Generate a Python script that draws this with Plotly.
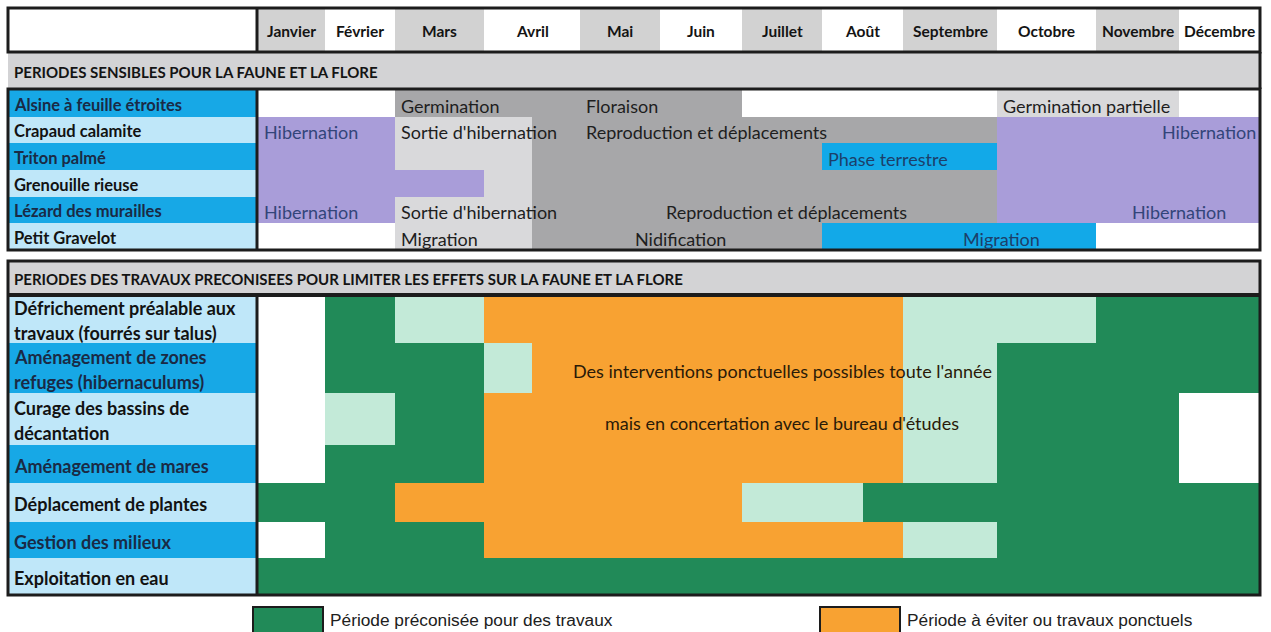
import numpy as np
import plotly.graph_objects as go

# ---------------------------------------------------------------- data
MONTHS = ["Janvier", "Février", "Mars", "Avril", "Mai", "Juin", "Juillet",
          "Août", "Septembre", "Octobre", "Novembre", "Décembre"]

SECTION_FAUNE = "PERIODES SENSIBLES POUR LA FAUNE ET LA FLORE"
SECTION_TRAVAUX = "PERIODES DES TRAVAUX PRECONISEES POUR LIMITER LES EFFETS SUR LA FAUNE ET LA FLORE"

SPECIES = ["Alsine à feuille étroites", "Crapaud calamite", "Triton palmé",
           "Grenouille rieuse", "Lézard des murailles", "Petit Gravelot"]

# periods: (start, end, state) in months, 0 = 1st January, 12 = 31st December
ALSINE = [(0, 2, "hors"), (2, 6, "sensible"), (6, 9, "hors"), (9, 11, "transition"), (11, 12, "hors")]
CRAPAUD = [(0, 2, "hiver"), (2, 3.5, "transition"), (3.5, 9, "sensible"), (9, 12, "hiver")]
TRITON = [(0, 2, "hiver"), (2, 3.5, "transition"), (3.5, 7, "sensible"), (7, 9, "mobile"), (9, 12, "hiver")]
GRENOUILLE = [(0, 3, "hiver"), (3, 3.5, "transition"), (3.5, 9, "sensible"), (9, 12, "hiver")]
LEZARD = [(0, 2, "hiver"), (2, 3.5, "transition"), (3.5, 9, "sensible"), (9, 12, "hiver")]
GRAVELOT = [(0, 2, "hors"), (2, 3.5, "transition"), (3.5, 7, "sensible"), (7, 10, "mobile"), (10, 12, "hors")]
FAUNE_PERIODS = [ALSINE, CRAPAUD, TRITON, GRENOUILLE, LEZARD, GRAVELOT]

# phase names: (row, month where written, text, alignment)
PHASES = [
    (0, 2, "Germination", "left"), (0, 4, "Floraison", "left"), (0, 9, "Germination partielle", "left"),
    (1, 0, "Hibernation", "left"), (1, 2, "Sortie d'hibernation", "left"),
    (1, 4, "Reproduction et déplacements", "left"), (1, 12, "Hibernation", "right"),
    (2, 7, "Phase terrestre", "left"),
    (4, 0, "Hibernation", "left"), (4, 2, "Sortie d'hibernation", "left"),
    (4, 5, "Reproduction et déplacements", "left"), (4, 11, "Hibernation", "center"),
    (5, 2, "Migration", "left"), (5, 5.25, "Nidification", "center"), (5, 9.05, "Migration", "center"),
]

WORKS = ["Défrichement préalable aux<br>travaux (fourrés sur talus)",
         "Aménagement de zones<br>refuges (hibernaculums)",
         "Curage des bassins de<br>décantation",
         "Aménagement de mares",
         "Déplacement de plantes",
         "Gestion des milieux",
         "Exploitation en eau"]

# work periods: G = préconisée, L = possible, O = à éviter / ponctuels, N = sans objet
DEFRICHEMENT = [(0, 1, "N"), (1, 2, "G"), (2, 3, "L"), (3, 8, "O"), (8, 10, "L"), (10, 12, "G")]
REFUGES = [(0, 1, "N"), (1, 3, "G"), (3, 3.5, "L"), (3.5, 8, "O"), (8, 9, "L"), (9, 12, "G")]
CURAGE = [(0, 1, "N"), (1, 2, "L"), (2, 3, "G"), (3, 8, "O"), (8, 9, "L"), (9, 11, "G"), (11, 12, "N")]
MARES = [(0, 1, "N"), (1, 3, "G"), (3, 8, "O"), (8, 9, "L"), (9, 11, "G"), (11, 12, "N")]
PLANTES = [(0, 2, "G"), (2, 6, "O"), (6, 7.5, "L"), (7.5, 12, "G")]
GESTION = [(0, 1, "N"), (1, 3, "G"), (3, 8, "O"), (8, 9, "L"), (9, 12, "G")]
EXPLOITATION = [(0, 12, "G")]
WORK_PERIODS = [DEFRICHEMENT, REFUGES, CURAGE, MARES, PLANTES, GESTION, EXPLOITATION]

NOTE_LINES = ["Des interventions ponctuelles possibles toute l'année",
              "mais en concertation avec le bureau d'études"]
LEGEND = [("G", "Période préconisée pour des travaux"),
          ("O", "Période à éviter ou travaux ponctuels")]

# ---------------------------------------------------------------- layout / style
W, H = 1271, 632
LEFT, SPLIT, RIGHT = 8, 257, 1260
COL_EDGES = [258, 325, 395, 484, 580, 660, 742, 822, 903, 997, 1096, 1179, 1259]
HEAD_Y = (8, 52)
SEC1_Y = (52, 89)
FAUNE_EDGES = [90, 117, 143, 170, 197, 223, 250]
SEC2_Y = (261, 294)
WORK_EDGES = [295, 343, 393, 445, 483, 522, 558, 595]

STATE_COLORS = {"hors": "#ffffff", "sensible": "#a7a7a9", "transition": "#d9d9db",
                "hiver": "#a99dd9", "mobile": "#12a9e8"}
WORK_COLORS = {"G": "#218a58", "L": "#c3ead8", "O": "#f8a232", "N": "#ffffff"}
LABEL_BLUE, LABEL_LIGHT = "#17a8e6", "#bfe7f9"
HEAD_GRAY, SEC_GRAY = "#d2d2d2", "#d3d3d5"
LINE = "#1c1c1c"
FONT = "Lato"


def mx(m):
    return float(np.interp(m, np.arange(13), COL_EDGES))


bars = {"y": [], "w": [], "base": [], "len": [], "color": []}


def cell(x0, x1, y0, y1, color):
    bars["y"].append((y0 + y1) / 2)
    bars["w"].append(y1 - y0 + 0.6)
    bars["base"].append(x0)
    bars["len"].append(x1 - x0 + 0.6)
    bars["color"].append(color)


ann = []


def text(x, y, s, size, color="#141414", bold=False, anchor="left", family=FONT):
    ann.append(dict(x=x, y=y, xref="x", yref="y", text=s, showarrow=False,
                    xanchor=anchor, yanchor="middle",
                    font=dict(family=family, size=size, color=color,
                              weight="bold" if bold else "normal")))


# header row
cell(LEFT, SPLIT, *HEAD_Y, "#ffffff")
for i, m in enumerate(MONTHS):
    cell(mx(i), mx(i + 1), *HEAD_Y, HEAD_GRAY if i % 2 == 0 else "#ffffff")
    text((mx(i) + mx(i + 1)) / 2, 31, m, 15.5, bold=True, anchor="center")

# section 1
cell(LEFT, RIGHT, *SEC1_Y, SEC_GRAY)
text(12, 72, SECTION_FAUNE, 15, bold=True)
for r, (name, periods) in enumerate(zip(SPECIES, FAUNE_PERIODS)):
    y0, y1 = FAUNE_EDGES[r], FAUNE_EDGES[r + 1]
    blue = r % 2 == 0
    cell(LEFT, SPLIT, y0, y1, LABEL_BLUE if blue else LABEL_LIGHT)
    text(12, (y0 + y1) / 2 + 1, name, 16.5, color="#1a2a45" if blue else "#121212", bold=True)
    for s, e, st in periods:
        cell(mx(s), mx(e), y0, y1, STATE_COLORS[st])

for r, m, s, al in PHASES:
    y0, y1 = FAUNE_EDGES[r], FAUNE_EDGES[r + 1]
    x = mx(m) + (4 if al == "left" else (-1 if al == "right" else 0))
    col = "#33457a" if s == "Hibernation" else ("#1c3f6a" if s in ("Phase terrestre",) or (r == 5 and m > 8) else "#1e1e1e")
    text(x, (y0 + y1) / 2 + 2, s, 18, color=col, anchor=al)

# section 2
cell(LEFT, RIGHT, *SEC2_Y, SEC_GRAY)
text(12, 279, SECTION_TRAVAUX, 15, bold=True)
for r, (name, periods) in enumerate(zip(WORKS, WORK_PERIODS)):
    y0, y1 = WORK_EDGES[r], WORK_EDGES[r + 1]
    blue = r % 2 == 1
    cell(LEFT, SPLIT, y0, y1, LABEL_BLUE if blue else LABEL_LIGHT)
    lines = name.split("<br>")
    n = len(lines)
    for k, ln in enumerate(lines):
        yc = (y0 + y1) / 2 + 1.5 + (k - (n - 1) / 2) * 25.5
        text(12, yc, ln, 18, color="#1a2a45" if blue else "#121212", bold=True)
    for s, e, st in periods:
        cell(mx(s), mx(e), y0, y1, WORK_COLORS[st])

text(mx(6.5), (WORK_EDGES[1] + WORK_EDGES[2]) / 2 + 3, NOTE_LINES[0], 18, color="#2a1a08", anchor="center")
text(mx(6.5), (WORK_EDGES[2] + WORK_EDGES[3]) / 2 + 4, NOTE_LINES[1], 18, color="#2a1a08", anchor="center")

# legend boxes
LEG_X = [(253, 323), (820, 900)]
for (key, lab), (lx0, lx1) in zip(LEGEND, LEG_X):
    cell(lx0, lx1, 607, 632, WORK_COLORS[key])
    text(lx1 + 5, 620, lab, 17.3, color="#202020", family="Liberation Sans")

fig = go.Figure(go.Bar(orientation="h", y=bars["y"], width=bars["w"], base=bars["base"],
                       x=bars["len"], marker=dict(color=bars["color"], line=dict(width=0)),
                       hoverinfo="skip", showlegend=False))

shapes = []


def line(x0, y0, x1, y1, w=3):
    shapes.append(dict(type="line", xref="x", yref="y", x0=x0, y0=y0, x1=x1, y1=y1,
                       line=dict(color=LINE, width=w), layer="above"))


def rect(x0, y0, x1, y1, w=3):
    shapes.append(dict(type="rect", xref="x", yref="y", x0=x0, y0=y0, x1=x1, y1=y1,
                       line=dict(color=LINE, width=w), fillcolor="rgba(0,0,0,0)", layer="above"))


rect(LEFT, HEAD_Y[0], RIGHT, HEAD_Y[1])
line(SPLIT, HEAD_Y[0], SPLIT, HEAD_Y[1])
line(RIGHT, HEAD_Y[1], RIGHT, SEC1_Y[1])
rect(LEFT, SEC1_Y[1], RIGHT, FAUNE_EDGES[-1])
line(SPLIT, SEC1_Y[1], SPLIT, FAUNE_EDGES[-1])
rect(LEFT, SEC2_Y[0], RIGHT, WORK_EDGES[-1])
line(LEFT, WORK_EDGES[0], RIGHT, WORK_EDGES[0], 4)
line(SPLIT, WORK_EDGES[0], SPLIT, WORK_EDGES[-1])
for lx0, lx1 in LEG_X:
    rect(lx0, 607, lx1, 633, 2)

fig.update_layout(
    width=W, height=H, margin=dict(l=0, r=0, t=0, b=0),
    paper_bgcolor="#ffffff", plot_bgcolor="#ffffff",
    barmode="overlay", bargap=0,
    xaxis=dict(range=[0, W], visible=False, fixedrange=True),
    yaxis=dict(range=[H, 0], visible=False, fixedrange=True),
    shapes=shapes, annotations=ann, showlegend=False,
)
fig.write_html("out.html", config={"displayModeBar": False},
               post_script="document.body.style.margin='0';document.body.style.overflow='hidden';")
